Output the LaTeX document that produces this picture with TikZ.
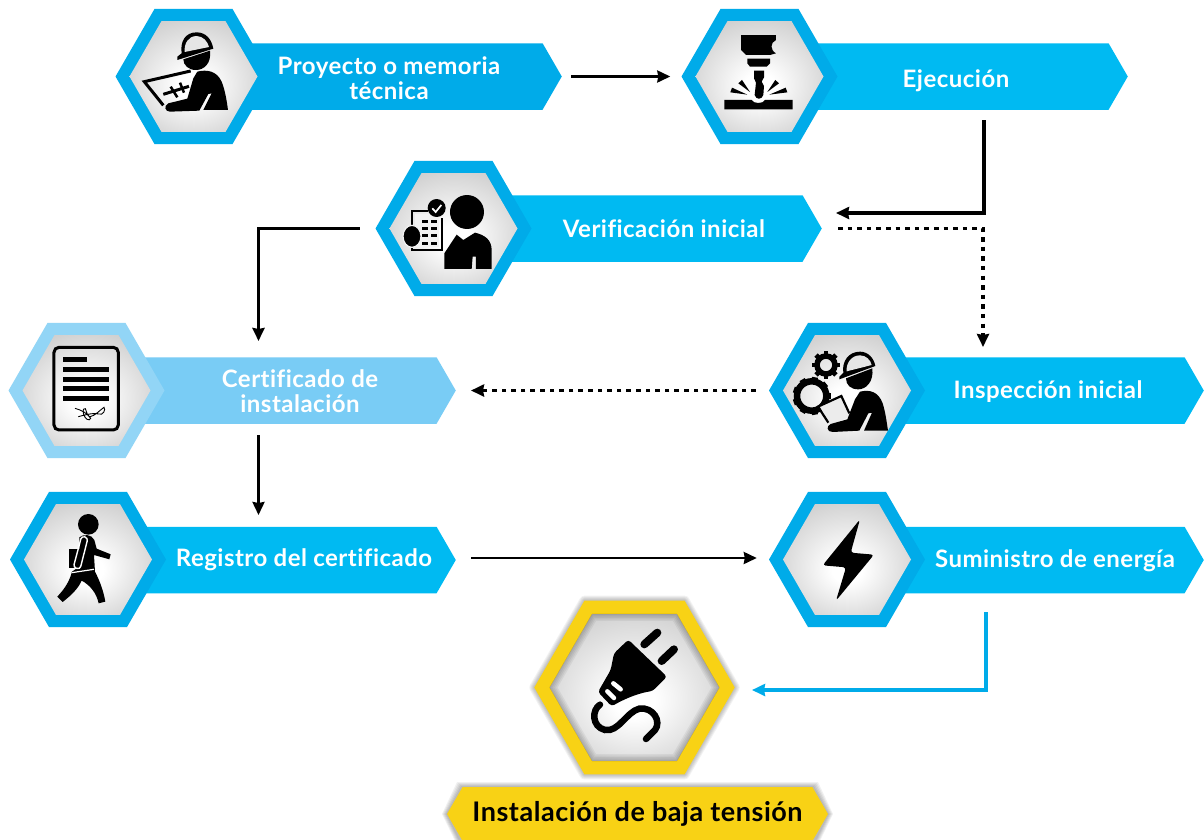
\documentclass[tikz,border=0pt]{standalone}
\usepackage{fontspec}
\setmainfont{Lato}[LetterSpace=2,Ligatures=NoCommon]
\usetikzlibrary{shapes.geometric,shapes.symbols,arrows.meta}
\definecolor{ringblue}{HTML}{00ABE9}
\definecolor{tagblue}{HTML}{00BAF2}
\definecolor{ringpale}{HTML}{92D5F6}
\definecolor{tagpale}{HTML}{79CCF5}
\definecolor{plugyellow}{HTML}{F8D215}
\definecolor{facetop}{HTML}{CFCFCF}
\pgfdeclareradialshading{hexgray}{\pgfpoint{0bp}{-5bp}}{color(0bp)=(white);color(6bp)=(white);color(30bp)=(facetop);color(50bp)=(facetop)}
\newcommand{\tagfont}{\fontsize{24}{26}\bfseries\selectfont}
\tikzset{
  hexring/.style={regular polygon,regular polygon sides=6,inner sep=0pt,minimum size=156pt,fill=#1},
  hexface/.style={regular polygon,regular polygon sides=6,inner sep=0pt,minimum size=128pt,shading=hexgray},
  tagbar/.style={signal,signal to=east,signal from=nowhere,signal pointer angle=120,inner sep=0pt,minimum height=66.5pt,anchor=east,fill=#1},
  tagtext/.style={text=white,font=\tagfont,align=center},
  flow/.style={line width=3.3pt,-{Stealth[length=13pt,width=12pt,inset=1pt]}},
  dotflow/.style={flow,dash pattern=on 4.5pt off 5.1pt},
  zoomed/.style={x=0.3333pt,y=-0.3333pt}
}
\begin{document}
\begin{tikzpicture}[x=1pt,y=-1pt]
    \useasboundingbox (0,0) rectangle (1204,839);
    \fill[white] (0,0) rectangle (1204,839);

    \node[tagbar=ringblue,minimum width=330pt] (proyectotag) at (562,76.5) {};
    \node[tagbar=tagblue,minimum width=320pt] (ejecuciontag) at (1128,76.5) {};
    \node[tagbar=tagblue,minimum width=330pt] (verificaciontag) at (822,228.5) {};
    \node[tagbar=tagblue,minimum width=320pt] (inspecciontag) at (1204,390.5) {};
    \node[tagbar=tagpale,minimum width=330pt] (certificadotag) at (456,390.5) {};
    \node[tagbar=tagblue,minimum width=330pt] (registrotag) at (456,560) {};
    \node[tagbar=tagblue,minimum width=320pt] (suministrotag) at (1204,560) {};

    \node[hexring=ringblue] (proyectohex) at (193.5,76.5) {};
    \node[hexface] (proyectoface) at (193.5,76.5) {};
    \node[hexring=ringblue] (ejecucionhex) at (759.5,76.5) {};
    \node[hexface] (ejecucionface) at (759.5,76.5) {};
    \node[hexring=ringblue] (verificacionhex) at (453.5,228.5) {};
    \node[hexface] (verificacionface) at (453.5,228.5) {};
    \node[hexring=ringblue] (inspeccionhex) at (847,390.5) {};
    \node[hexface] (inspeccionface) at (847,390.5) {};
    \node[hexring=ringpale] (certificadohex) at (86.5,390.5) {};
    \node[hexface] (certificadoface) at (86.5,390.5) {};
    \node[hexring=ringblue] (registrohex) at (88,559.5) {};
    \node[hexface] (registroface) at (88,559.5) {};
    \node[hexring=ringblue] (suministrohex) at (847,559.5) {};
    \node[hexface] (suministroface) at (847,559.5) {};

    \node[tagtext] (proyectotext) at (389,78) {Proyecto o memoria\\[-1pt]técnica};
    \node[tagtext] (ejecuciontext) at (956,80.5) {Ejecución};
    \node[tagtext] (verificaciontext) at (664,229) {Verificación inicial};
    \node[tagtext] (inspecciontext) at (1048,392) {Inspección inicial};
    \node[tagtext] (certificadotext) at (300,391) {Certificado de\\[-1pt]instalación};
    \node[tagtext] (registrotext) at (304,560) {Registro del certificado};
    \node[tagtext] (suministrotext) at (1055,561) {Suministro de energía};

    % plug hexagon with soft shadow
    \node[regular polygon,regular polygon sides=6,inner sep=0pt,minimum size=200pt] (plughex) at (634.5,687.5) {};
    \foreach \w in {2,4,...,10}
        \draw[line width=\w pt,black,opacity=0.05,line join=round] (plughex.corner 1) -- (plughex.corner 2) -- (plughex.corner 3) -- (plughex.corner 4) -- (plughex.corner 5) -- (plughex.corner 6) -- cycle;
    \fill[plugyellow] (plughex.corner 1) -- (plughex.corner 2) -- (plughex.corner 3) -- (plughex.corner 4) -- (plughex.corner 5) -- (plughex.corner 6) -- cycle;
    \node[hexface,minimum size=169.5pt] (plugface) at (634.5,687.5) {};
    \begin{scope}
        \clip (plugface.corner 1) -- (plugface.corner 2) -- (plugface.corner 3) -- (plugface.corner 4) -- (plugface.corner 5) -- (plugface.corner 6) -- cycle;
        \foreach \w in {2,5,...,14}
            \draw[yshift=-2pt,line width=\w pt,black,opacity=0.05] (plugface.corner 1) -- (plugface.corner 2) -- (plugface.corner 3) -- (plugface.corner 4) -- (plugface.corner 5) -- (plugface.corner 6) -- cycle;
    \end{scope}

    % bottom label
    \foreach \w in {2,4,...,10}
        \fill[black,opacity=0.06] (447-\w/2,814) -- (462-\w/2,787-\w/2) -- (813+\w/2,787-\w/2) -- (828+\w/2,814) -- (813+\w/2,845) -- (462-\w/2,845) -- cycle;
    \node[signal,signal to=east and west,signal pointer angle=120,fill=plugyellow,inner sep=0pt,minimum width=381pt,minimum height=54pt,font=\fontsize{27}{29}\bfseries\selectfont] (bannertag) at (637.5,814) {\raisebox{-2pt}{Instalación de baja tensión}};

    % connectors
    \coordinate (ejecucionout) at (984,120);
    \coordinate (verificacionin) at (836,213);
    \coordinate (inspeccionin) at (983,347);
    \coordinate (certificadoin) at (258.5,341);
    \coordinate (certificadoout) at (258.5,435);
    \coordinate (registroin) at (258.5,515);
    \coordinate (suministroout) at (986,612);
    \coordinate (plugin) at (752,690);
    \draw[flow,line width=2.5pt,shorten <=9pt,shorten >=11pt] (proyectotag.east) -- (ejecucionhex.west);
    \draw[flow,line join=miter] (ejecucionout) |- (verificacionin);
    \draw[dotflow,shorten <=16pt] (verificaciontag.east) -| (inspeccionin);
    \draw[flow,shorten <=15.5pt] (verificacionhex.west) -| (certificadoin);
    \draw[dotflow,shorten <=13pt,shorten >=15pt] (inspeccionhex.west) -- (certificadotag.east);
    \draw[flow,line width=2.5pt] (certificadoout) -- (registroin);
    \draw[flow,line width=2.5pt,shorten <=15pt,shorten >=12pt] ([yshift=2pt]registrotag.east) -- ([yshift=1.5pt]suministrohex.west);
    \draw[flow,ringblue] (suministroout) |- (plugin);

    % worker with drawing
    \begin{scope}[xshift=100pt,yshift=0pt,zoomed]
        \fill (232,170) -- (245,160) .. controls (240,125) and (255,97) .. (290,97) .. controls (318,97) and (335,118) .. (340,146) -- (232,180) -- cycle;
        \fill[gray!20] (254,156) .. controls (252,130) and (265,109) .. (289,108) .. controls (310,108) and (323,125) .. (327,141) -- cycle;
        \fill (250,178) -- (330,152) .. controls (335,190) and (312,210) .. (288,210) .. controls (265,210) and (250,195) .. (250,178) -- cycle;
        \fill (292,215) .. controls (320,208) and (350,212) .. (365,245) .. controls (375,270) and (380,300) .. (384,330) -- (310,330) -- (335,280) -- (325,282) -- (298,332) -- (210,335) .. controls (195,335) and (190,318) .. (205,310) -- (262,296) -- (280,235) -- cycle;
        \draw[line width=3pt] (272,213) -- (133,245) -- (190,316);
        \draw[line width=3pt] (190,283) -- (267,259);
        \draw[line width=2.5pt] (212,260) -- (232,292);
        \draw[line width=2.5pt] (240,248) -- (252,278);
    \end{scope}

    % welding head
    \begin{scope}[xshift=670pt,yshift=0pt,zoomed]
        \fill (213,105) -- (318,105) -- (318,120) .. controls (300,128) and (300,150) .. (318,160) -- (300,165) -- (228,165) -- (213,150) -- cycle;
        \fill (232,176) -- (300,176) -- (300,190) -- (290,200) -- (240,200) -- (232,190) -- cycle;
        \fill (252,212) -- (282,212) -- (282,232) -- (275,245) -- (282,258) -- (280,285) .. controls (275,300) and (258,300) .. (254,285) -- (258,248) -- (252,235) -- cycle;
        \fill (163,300) -- (245,300) .. controls (250,312) and (280,312) .. (285,300) -- (368,300) -- (368,328) -- (163,328) -- cycle;
        \fill (181,277) -- (186,263) -- (232,284) -- cycle;
        \fill (205,250) -- (216,240) -- (240,276) -- cycle;
        \fill (352,277) -- (347,263) -- (298,284) -- cycle;
        \fill (327,250) -- (316,240) -- (292,276) -- cycle;
    \end{scope}

    % inspector with checklist
    \begin{scope}[xshift=360pt,yshift=-150pt,zoomed]
        \fill (321,186) circle (51*0.3333pt);
        \fill (253,357) -- (253,310) -- (290,254) -- (310,270) -- (345,248) .. controls (375,255) and (395,270) .. (395,300) -- (395,357) -- (348,357) -- (348,320) -- (338,320) -- (335,357) -- cycle;
        \draw[line width=2pt] (205,183) -- (155,183) -- (155,301) -- (246,301) -- (246,205);
        \fill[gray!10] (165,192) rectangle (238,292);
        \foreach \y in {215,235,257,280} {
            \fill (186,\y-4) rectangle (205,\y+4);
            \fill (212,\y-4) rectangle (232,\y+4);
        }
        \fill (230,174) circle (27*0.3333pt);
        \draw[white,line width=1.7pt] (217,175) -- (227,186) -- (244,165);
        \filldraw[draw=gray!10,line width=1.2pt] (156,259) ellipse (27*0.3333pt and 33*0.3333pt);
    \end{scope}

    % technician with gears
    \begin{scope}[xshift=760pt,yshift=-310pt,zoomed]
        \draw[line width=5.5pt] (198,165) circle (27*0.3333pt);
        \foreach \a in {0,45,...,315}
            \fill[shift={(198,165)},rotate=\a] (32,-7) rectangle (42,7);
        \draw[line width=6.5pt] (155,258) circle (44*0.3333pt);
        \foreach \a in {0,40,...,320}
            \fill[shift={(155,258)},rotate=\a] (46,-9) rectangle (57,9);
        \fill[gray!15] (178,288) -- (245,260) -- (272,320) -- (210,345) -- cycle;
        \fill (238,200) -- (250,188) .. controls (245,155) and (265,125) .. (300,125) .. controls (325,125) and (342,145) .. (346,168) -- (238,208) -- cycle;
        \fill[gray!20] (260,184) .. controls (258,158) and (275,136) .. (300,136) .. controls (318,136) and (332,150) .. (335,165) -- cycle;
        \fill (258,205) -- (337,175) .. controls (342,215) and (318,238) .. (295,238) .. controls (272,238) and (258,225) .. (258,205) -- cycle;
        \fill (300,245) .. controls (330,238) and (355,245) .. (368,280) .. controls (376,305) and (380,335) .. (384,362) -- (312,362) -- (336,308) -- (325,310) -- (298,362) -- (218,366) .. controls (200,366) and (198,348) .. (212,342) -- (262,328) -- (285,268) -- cycle;
        \draw[line width=2.2pt] (205,338) -- (174,290) -- (244,258) -- (268,310);
    \end{scope}

    % signed document
    \begin{scope}[xshift=0pt,yshift=-310pt,zoomed]
        \draw[line width=3pt,rounded corners=5pt] (162,112) rectangle (355,360);
        \fill (189,141) rectangle (261,156);
        \fill (189,171) rectangle (327,187);
        \fill (189,201) rectangle (327,216);
        \fill (189,229) rectangle (327,244);
        \fill (189,258) rectangle (327,273);
        \draw[line width=0.9pt] (225,295) .. controls (245,300) and (265,312) .. (272,325) .. controls (268,335) and (255,328) .. (250,310) .. controls (248,300) and (252,292) .. (256,296) .. controls (260,305) and (262,320) .. (270,320) .. controls (285,318) and (300,300) .. (312,292) .. controls (318,298) and (310,318) .. (295,312) .. controls (285,308) and (265,312) .. (235,320);
    \end{scope}

    % walking person
    \begin{scope}[xshift=0pt,yshift=-310pt,zoomed]
        \fill (265,643) circle (31*0.3333pt);
        \fill (238,682) .. controls (250,672) and (275,672) .. (283,690) -- (290,716) -- (332,733) -- (328,748) -- (282,735) -- (285,785) .. controls (298,810) and (310,840) .. (316,875) -- (296,880) .. controls (290,850) and (270,825) .. (245,812) .. controls (235,835) and (215,855) .. (188,876) -- (172,860) .. controls (195,835) and (208,815) .. (216,785) -- (238,770) -- cycle;
        \fill (207,718) rectangle (280,773);
        \draw[white,line width=1.4pt,rounded corners=3pt] (245,678) -- (264,684) -- (240,778) -- (220,772) -- cycle;
        \draw[white,line width=1.2pt] (216,788) -- (282,778);
    \end{scope}

    % bolt
    \begin{scope}[xshift=730pt,yshift=-480pt,zoomed]
        \fill[rounded corners=3pt] (390,118) -- (278,256) -- (348,262) -- (318,362) -- (432,224) -- (362,218) -- cycle;
    \end{scope}

    % plug
    \begin{scope}[xshift=520pt,yshift=-590pt,zoomed]
        \fill[rounded corners=3pt] (325,149) -- (441,260) -- (398,303) .. controls (365,308) and (325,320) .. (275,349) -- (234,306) -- (272,240) -- (282,190) -- cycle;
        \draw[white,line width=4.5pt,line cap=round] (280,280) -- (302,298);
        \draw[white,line width=4.5pt,line cap=round] (262,304) -- (282,324);
        \draw[line width=8pt,line cap=round] (373,163) -- (412,128);
        \draw[line width=8pt,line cap=round] (425,213) -- (462,178);
        \draw[line width=6.5pt,line cap=round] (240,344) .. controls (215,360) and (215,410) .. (255,420) .. controls (295,428) and (320,365) .. (358,356) .. controls (400,350) and (425,395) .. (405,420) -- (378,447);
    \end{scope}
\end{tikzpicture}
\end{document}
